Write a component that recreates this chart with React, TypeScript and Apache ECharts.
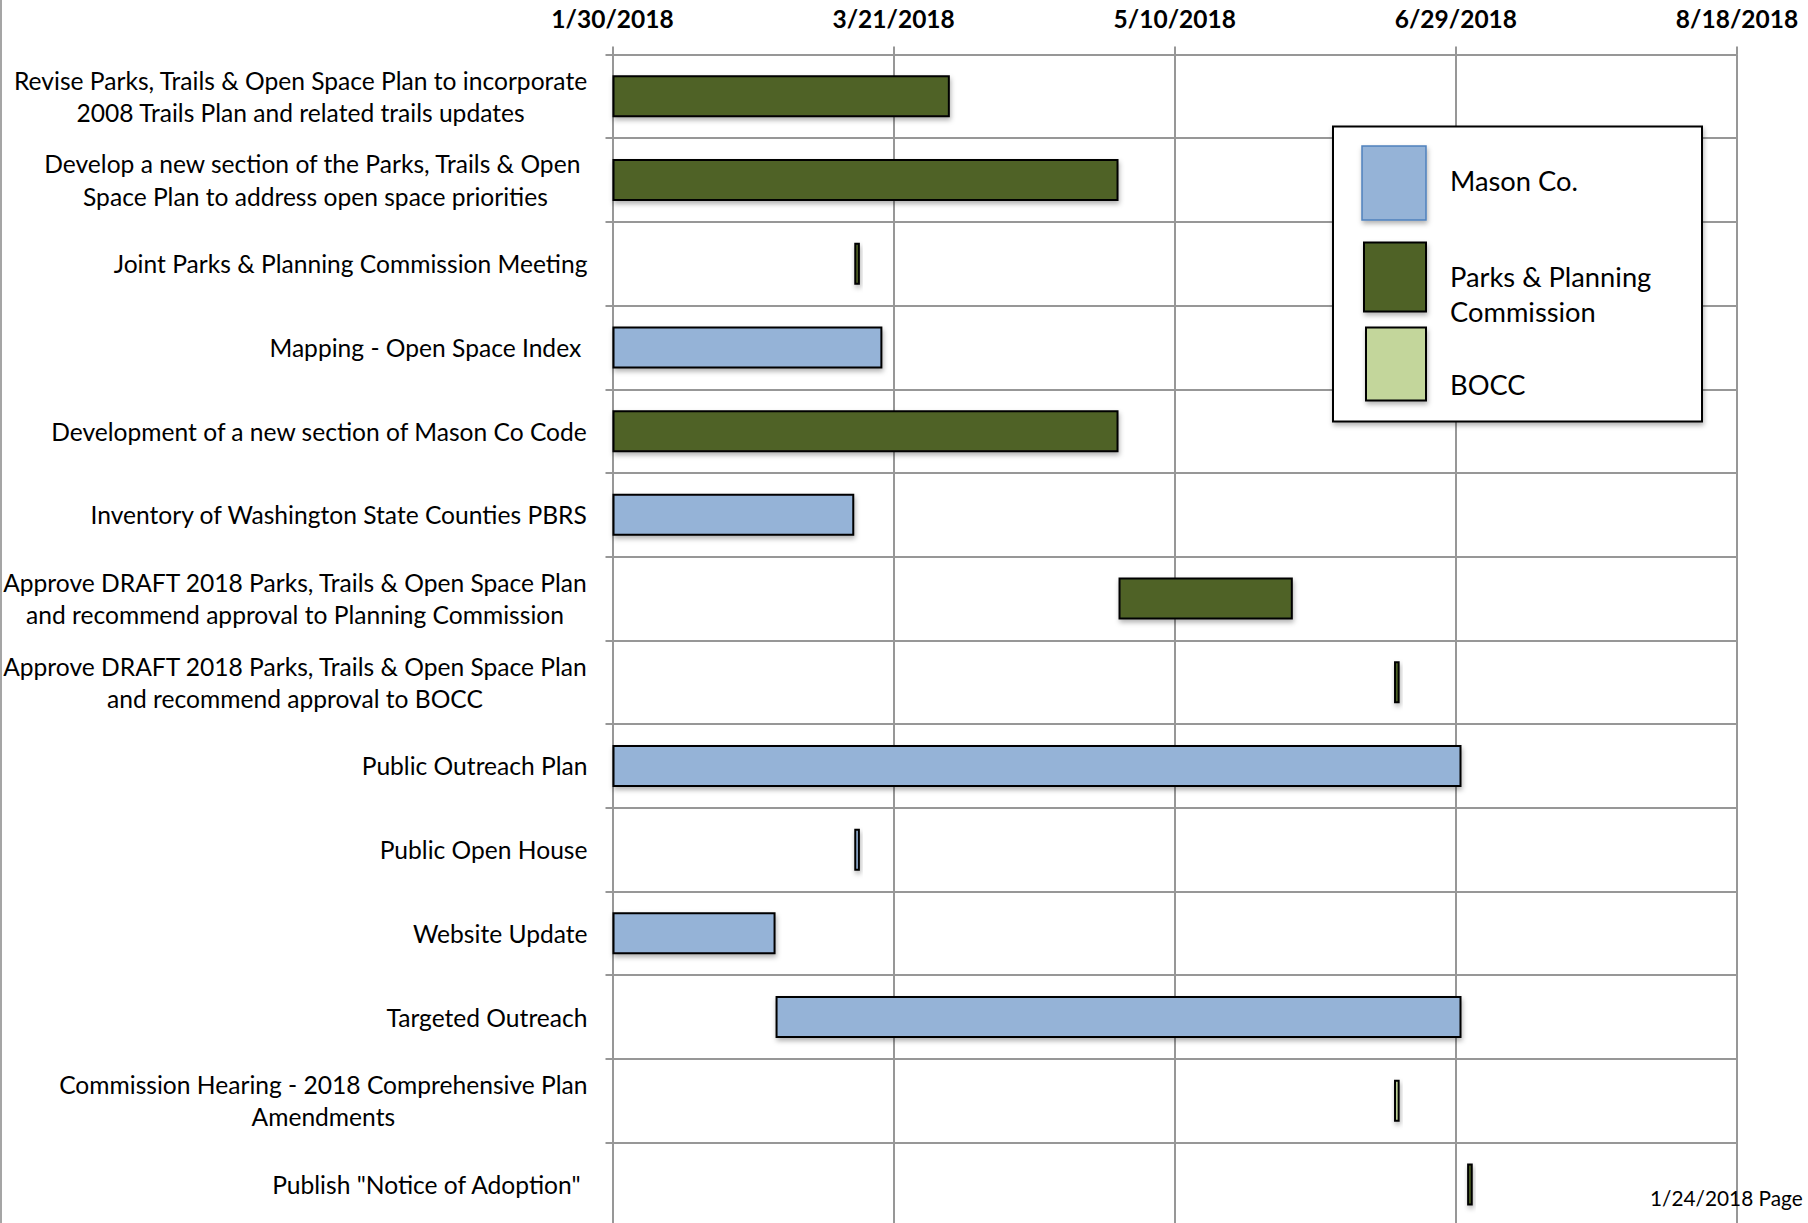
import React, { useEffect, useRef } from "react";
import * as echarts from "echarts";

const axisStart = "2018-01-30";
const axisEnd = "2018-08-18";
const tickLabels = ["1/30/2018", "3/21/2018", "5/10/2018", "6/29/2018", "8/18/2018"];

const categories = [
  "Revise Parks, Trails & Open Space Plan to incorporate\n2008 Trails Plan and related trails updates",
  "Develop a new section of the Parks, Trails & Open \nSpace Plan to address open space priorities",
  "Joint Parks & Planning Commission Meeting",
  "Mapping - Open Space Index ",
  "Development of a new section of Mason Co Code",
  "Inventory of Washington State Counties PBRS",
  "Approve DRAFT 2018 Parks, Trails & Open Space Plan\nand recommend approval to Planning Commission",
  "Approve DRAFT 2018 Parks, Trails & Open Space Plan\nand recommend approval to BOCC",
  "Public Outreach Plan",
  "Public Open House",
  "Website Update",
  "Targeted Outreach",
  "Commission Hearing - 2018 Comprehensive Plan\nAmendments",
  "Publish \"Notice of Adoption\" ",
];

const startDates = [
  "2018-01-30", "2018-01-30", "2018-03-14", "2018-01-30", "2018-01-30", "2018-01-30", "2018-04-30",
  "2018-06-18", "2018-01-30", "2018-03-14", "2018-01-30", "2018-02-28", "2018-06-18", "2018-07-01",
];
const endDates = [
  "2018-03-31", "2018-04-30", "2018-03-15", "2018-03-19", "2018-04-30", "2018-03-14", "2018-05-31",
  "2018-06-19", "2018-06-30", "2018-03-15", "2018-02-28", "2018-06-30", "2018-06-19", "2018-07-02",
];

const groups = ["Mason Co.", "Parks & Planning Commission", "BOCC"];
const legendLabels = ["Mason Co.", "Parks & Planning\nCommission", "BOCC"];
const owners = [
  "Parks & Planning Commission", "Parks & Planning Commission", "Parks & Planning Commission",
  "Mason Co.", "Parks & Planning Commission", "Mason Co.", "Parks & Planning Commission",
  "Parks & Planning Commission", "Mason Co.", "Mason Co.", "Mason Co.", "Mason Co.",
  "BOCC", "Parks & Planning Commission",
];
const groupColors = ["#95B3D7", "#4F6228", "#C3D69B"];

const DAY = 86400000;
const dayOffset = (d: string) => Math.round((Date.parse(d) - Date.parse(axisStart)) / DAY);

const GRID = "#979797";
const FONT = "Lato";

export default function App() {
  const ref = useRef<HTMLDivElement>(null);
  useEffect(() => {
    if (!ref.current) return;
    const chart = echarts.init(ref.current, null, { renderer: "svg" });
    const startDays = startDates.map(dayOffset);
    const durations = endDates.map((e, i) => dayOffset(e) - startDays[i]);
    const maxDay = dayOffset(axisEnd);
    const step = maxDay / (tickLabels.length - 1);
    const shadow = {
      shadowBlur: 5,
      shadowOffsetX: 1,
      shadowOffsetY: 3,
      shadowColor: "rgba(0,0,0,0.3)",
    };

    const barSeries: any[] = groups.map((g, gi) => ({
      type: "bar",
      name: g,
      stack: "gantt",
      barWidth: 42,
      data: durations.map((v, i) => (owners[i] === g ? v : "-")),
      itemStyle: {
        color: groupColors[gi],
        borderColor: "#000",
        borderWidth: 2,
        ...shadow,
      },
      z: 3,
    }));

    const legendText = (text: string, y: number) => ({
      type: "text",
      x: 1450,
      y,
      z: 102,
      style: {
        text,
        fontFamily: FONT,
        fontSize: 27.3,
        lineHeight: 35,
        fill: "#000",
        verticalAlign: "middle",
      },
    });

    chart.setOption({
      animation: false,
      grid: {
        left: 612.5,
        right: 71,
        top: 54.5,
        height: 83.7 * categories.length,
        outerBoundsMode: "none",
        containLabel: false,
      },
      xAxis: {
        type: "value",
        position: "top",
        min: 0,
        max: maxDay,
        interval: step,
        axisLine: { show: true, lineStyle: { color: GRID, width: 2 } },
        axisTick: { show: true, length: 8, lineStyle: { color: GRID, width: 2 } },
        splitLine: { show: true, lineStyle: { color: GRID, width: 2 } },
        axisLabel: {
          margin: 23.5,
          showMinLabel: true,
          showMaxLabel: true,
          color: "#000",
          fontFamily: FONT,
          fontWeight: "bold",
          fontSize: 24.5,
          formatter: (v: number) => tickLabels[Math.round(v / step)] ?? "",
        },
      },
      yAxis: {
        type: "category",
        inverse: true,
        data: categories,
        axisLine: { show: true, lineStyle: { color: GRID, width: 2 } },
        axisTick: { show: true, length: 7, interval: 0, lineStyle: { color: GRID, width: 2 } },
        splitLine: { show: true, interval: 0, lineStyle: { color: GRID, width: 2 } },
        axisLabel: {
          interval: 0,
          margin: 25,
          align: "right",
          formatter: (v: string) =>
            v
              .split("\n")
              .map((s) => `{c|${s}}`)
              .join("\n"),
          rich: {
            c: {
              fontFamily: FONT,
              fontSize: 24.6,
              lineHeight: 32.3,
              color: "#000",
              align: "center",
            },
          },
        },
      },
      series: [
        {
          type: "bar",
          name: "start",
          stack: "gantt",
          barWidth: 42,
          silent: true,
          data: startDays,
          itemStyle: { color: "transparent", borderWidth: 0 },
        },
        ...barSeries,
      ],
      graphic: [
        {
          type: "line",
          shape: { x1: 1, y1: 0, x2: 1, y2: 1223 },
          style: { stroke: "#a5a5a5", lineWidth: 2 },
        },
        {
          type: "text",
          x: 1650,
          y: 1197,
          z: 1,
          style: {
            text: "1/24/2018 Page",
            fontFamily: FONT,
            fontSize: 20.8,
            fill: "#000",
            verticalAlign: "middle",
          },
        },
        {
          type: "rect",
          z: 100,
          shape: { x: 1333, y: 126.5, width: 369, height: 295 },
          style: { fill: "#fff", stroke: "#000", lineWidth: 2, ...shadow },
        },
        {
          type: "rect",
          z: 101,
          shape: { x: 1362, y: 146, width: 64, height: 74 },
          style: { fill: groupColors[0], stroke: "#4F81BD", lineWidth: 1.5, ...shadow },
        },
        {
          type: "rect",
          z: 101,
          shape: { x: 1364, y: 242.5, width: 62, height: 69 },
          style: { fill: groupColors[1], stroke: "#000", lineWidth: 2, ...shadow },
        },
        {
          type: "rect",
          z: 101,
          shape: { x: 1366, y: 327.5, width: 60, height: 73 },
          style: { fill: groupColors[2], stroke: "#000", lineWidth: 2, ...shadow },
        },
        legendText(legendLabels[0], 180),
        legendText(legendLabels[1], 294),
        legendText(legendLabels[2], 384),
      ],
    });
    return () => chart.dispose();
  }, []);
  return (
    <div
      ref={ref}
      style={{ position: "absolute", left: 0, top: 0, width: 1808, height: 1223, background: "#fff" }}
    />
  );
}
